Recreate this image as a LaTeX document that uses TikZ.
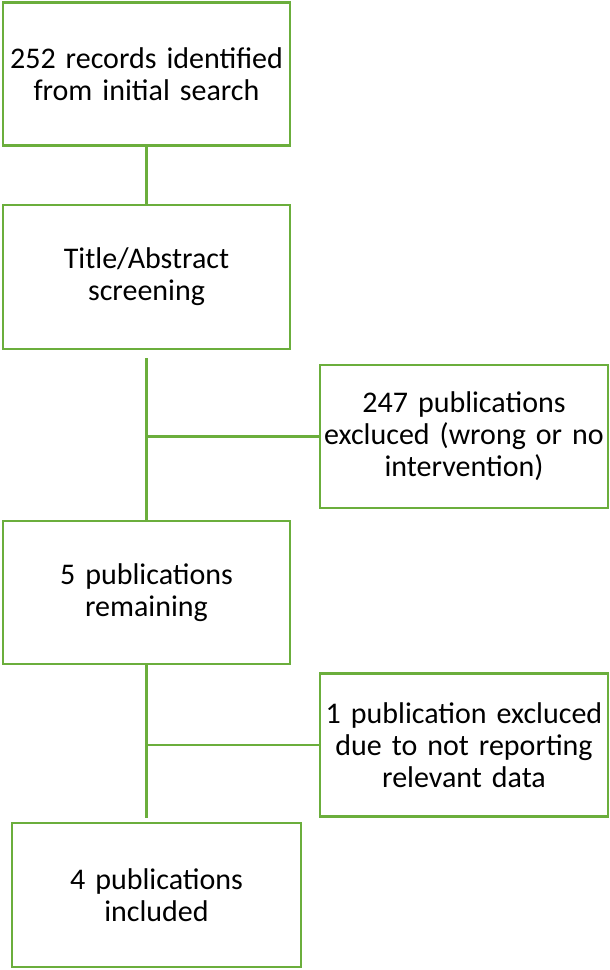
\documentclass[tikz,border=0pt]{standalone}
\usepackage{fontspec}
\setmainfont{Carlito}
\definecolor{boxgreen}{HTML}{6BAE3C}
\begin{document}
\begin{tikzpicture}[x=1pt,y=-1pt,
  stagebox/.style={draw=boxgreen,line width=2.6pt,rectangle,minimum width=287pt,minimum height=143pt,
    text width=284pt,align=center,inner sep=0pt,font=\fontsize{30}{32}\selectfont,text=black},
  link/.style={draw=boxgreen,line width=2.2pt}]
\useasboundingbox (0,0) rectangle (610,970);
\node[stagebox] (b1) at (146.5,74) {252 records identified\\from initial search};
\node[stagebox,minimum height=144pt] (b2) at (146.5,277) {Title/Abstract\\screening};
\node[stagebox] (b3) at (146.5,592.5) {5 publications\\remaining};
\node[stagebox,minimum width=289pt,minimum height=144pt] (b4) at (156.5,895) {4 publications\\included};
\node[stagebox,minimum width=288pt] (sa) at (464,436.5) {247 publications\\excluced (wrong or no\\intervention)};
\node[stagebox,minimum width=288pt] (sb) at (464,745) {1 publication excluced\\due to not reporting\\relevant data};
\draw[link] (b1.south) -- (b2.north);
\draw[link,shorten <=8pt] (b2.south) -- (b3.north);
\coordinate (ja) at (b2.south |- sa.west);
\draw[link] (ja) -- (sa.west);
\coordinate (b4top) at (b3.south |- b4.north);
\draw[link,shorten >=4pt] (b3.south) -- (b4top);
\coordinate (jb) at (b3.south |- sb.west);
\draw[link] (jb) -- (sb.west);
\end{tikzpicture}
\end{document}
